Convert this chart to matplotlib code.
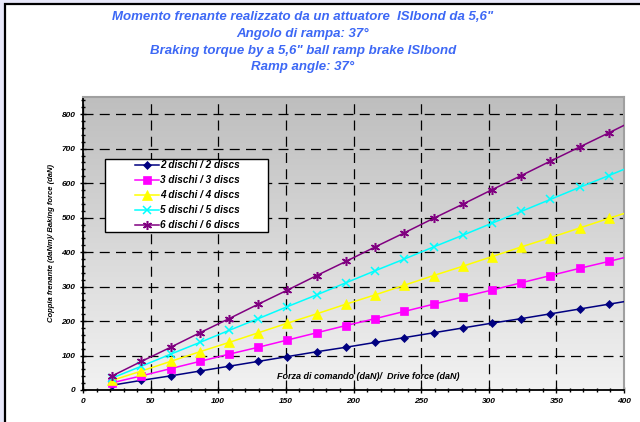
import numpy as np
import matplotlib
matplotlib.use("Agg")
import matplotlib.pyplot as plt
from matplotlib.patches import Rectangle

plt.rcParams["font.family"] = ["Liberation Sans", "DejaVu Sans"]

# forza di comando (daN)
forza = [21.6, 43.2, 64.8, 86.4, 108, 129.6, 151.2, 172.8, 194.4, 216,
         237.6, 259.2, 280.8, 302.4, 324, 345.6, 367.2, 388.8, 410.4]

# coppia frenante per numero di dischi
dischi2 = [14, 28, 41, 55, 69, 83, 97, 111, 124, 138, 152, 166, 180, 194, 207, 221, 235, 249, 263]
dischi3 = [21, 41, 62, 83, 104, 124, 145, 166, 187, 207, 228, 249, 270, 290, 311, 332, 353, 373, 394]
dischi4 = [28, 55, 83, 111, 138, 166, 194, 221, 249, 276, 304, 332, 359, 387, 415, 442, 470, 498, 525]
dischi5 = [35, 69, 104, 138, 173, 207, 242, 276, 311, 346, 380, 415, 449, 484, 518, 553, 588, 622, 657]
dischi6 = [41, 83, 124, 166, 207, 249, 290, 332, 373, 415, 456, 498, 539, 581, 622, 664, 705, 746, 788]

labels = ["2 dischi / 2 discs", "3 dischi / 3 discs", "4 dischi / 4 discs",
          "5 dischi / 5 discs", "6 dischi / 6 discs"]
serie = [dischi2, dischi3, dischi4, dischi5, dischi6]
colori = ["#000080", "#ff00ff", "#ffff00", "#00ffff", "#800080"]
marker = ["D", "s", "^", "x", (6, 2, 0)]
msize = [4.5, 6, 6.5, 6, 6.5]

W, H = 640, 422
fig = plt.figure(figsize=(6.4, 4.22), dpi=100)
fig.patch.set_facecolor("#e8e8fa")
# pannello bianco con bordo nero
fig.patches.append(Rectangle((5/W, -0.1), 1.1, 1 - 4/H + 0.1, transform=fig.transFigure,
                             facecolor="white", edgecolor="black", linewidth=1.6, zorder=-5))

titolo = ['Momento frenante realizzato da un attuatore  ISIbond da 5,6"',
          'Angolo di rampa: 37°',
          'Braking torque by a 5,6" ball ramp brake ISIbond',
          'Ramp angle: 37°']
for i, t in enumerate(titolo):
    fig.text(303/W, 1 - (17 + 16.8*i)/H, t, ha="center", va="center", color="#3d68f5",
             fontsize=9.5, fontweight="bold", fontstyle="italic")

ax = fig.add_axes([83/W, 1 - 390/H, (624 - 83)/W, (390 - 97)/H])
ax.set_zorder(2)
ax.set_xlim(0, 400)
ax.set_ylim(0, 850)

# sfondo sfumato
grad = np.linspace(0, 1, 256).reshape(-1, 1)
ax.imshow(grad, extent=[0, 1, 0, 1], transform=ax.transAxes, aspect="auto",
          cmap=matplotlib.colors.LinearSegmentedColormap.from_list("g", ["#bebebe", "#f2f2f2"]),
          zorder=0)

for y, lab, c, m, ms in zip(serie, labels, colori, marker, msize):
    ax.plot(forza, y, color=c, marker=m, markersize=ms, linewidth=1.1, label=lab,
            markeredgewidth=1.1 if m == "x" or isinstance(m, tuple) else 0.5,
            markeredgecolor=c, zorder=3)

ax.set_xticks(np.arange(0, 401, 50))
ax.set_yticks(np.arange(0, 801, 100))
ax.set_xticks(np.arange(0, 401, 10), minor=True)
ax.set_yticks(np.arange(0, 851, 20), minor=True)
ax.grid(True, which="major", color="black", linestyle=(0, (8, 5)), linewidth=0.9, zorder=1)
ax.tick_params(which="both", direction="inout", length=5, width=1, labelsize=6, pad=3)
ax.tick_params(which="minor", length=3)
for lab in ax.get_xticklabels() + ax.get_yticklabels():
    lab.set_fontweight("bold")
    lab.set_fontstyle("italic")

ax.spines["left"].set_linewidth(1.3)
ax.spines["bottom"].set_linewidth(1.3)
for s in ("top", "right"):
    ax.spines[s].set_color("#a0a0a0")
    ax.spines[s].set_linewidth(1.5)

ax.set_ylabel("Coppia frenante (daNm)/ Baking force (daN)", fontsize=5.5,
              fontweight="bold", fontstyle="italic", labelpad=5)
ax.text(211, 40, "Forza di comando (daN)/  Drive force (daN)", ha="center", va="center",
        fontsize=6.5, fontweight="bold", fontstyle="italic", zorder=4)

# riquadro della legenda
ax.add_patch(Rectangle((105/W, 1 - 232/H), (268 - 105)/W, (232 - 159)/H,
                       transform=fig.transFigure, facecolor="white", clip_on=False,
                       edgecolor="black", linewidth=1.0, zorder=5))
leg = ax.legend(loc="center left", bbox_to_anchor=(135/W, 1 - 195/H),
                bbox_transform=fig.transFigure, frameon=False, borderpad=0,
                borderaxespad=0, labelspacing=0.5, handlelength=2.4, handletextpad=0.15,
                prop={"size": 7.2, "weight": "bold", "style": "italic"})
leg.set_zorder(6)

fig.savefig("out.png", dpi=100, facecolor=fig.get_facecolor())
